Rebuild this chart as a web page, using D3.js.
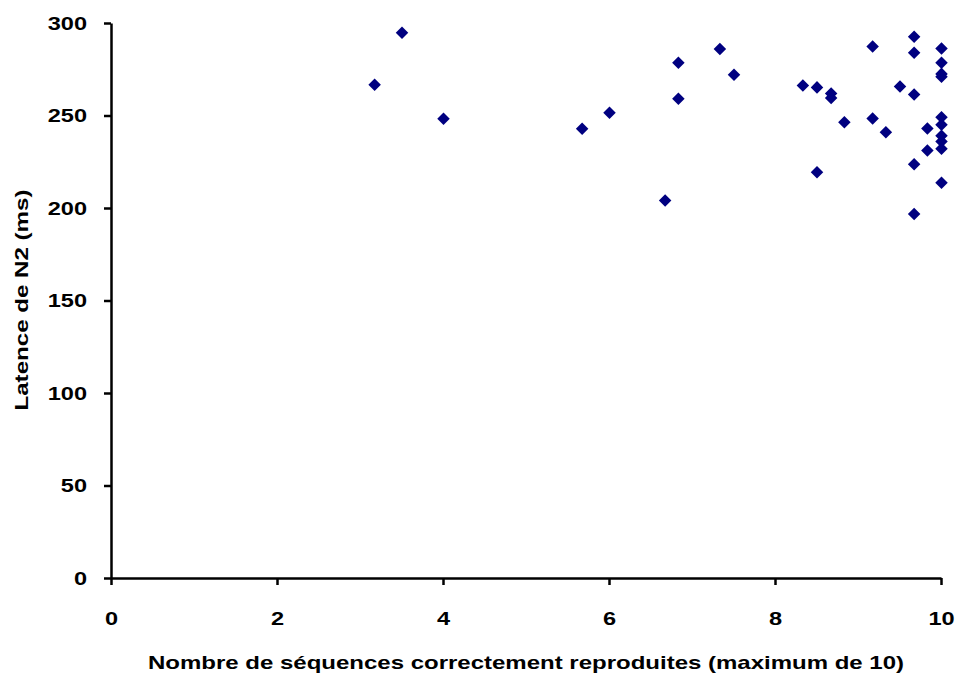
<!DOCTYPE html>
<html>
<head>
<meta charset="utf-8">
<script src="https://cdn.jsdelivr.net/npm/d3@7"></script>
<style>
  html, body { margin: 0; padding: 0; background: #fff; }
  svg { display: block; }
  text { font-family: "Liberation Sans", Arial, sans-serif; font-weight: bold; fill: #000; }
</style>
</head>
<body>
<svg id="chart" width="957" height="675"></svg>
<script>
const xValues = [3.17, 3.5, 4.0, 5.67, 6.0, 6.67, 6.83, 6.83, 7.33, 7.5,
                 8.33, 8.5, 8.5, 8.67, 8.67, 8.83, 9.17, 9.17, 9.33, 9.5,
                 9.67, 9.67, 9.67, 9.67, 9.67, 9.83, 9.83,
                 10, 10, 10, 10, 10, 10, 10, 10, 10, 10];
const yValues = [266.6, 294.7, 248.2, 242.8, 251.5, 204.0, 278.5, 259.0, 286.0, 272.0,
                 266.2, 265.2, 219.3, 261.9, 259.4, 246.3, 287.3, 248.4, 240.9, 265.7,
                 292.6, 283.9, 261.4, 223.6, 196.8, 243.0, 231.1,
                 286.2, 278.5, 272.5, 271.0, 249.0, 245.0, 239.0, 236.0, 232.0, 213.7];
const xTicks = [0, 2, 4, 6, 8, 10];
const yTicks = [0, 50, 100, 150, 200, 250, 300];
const xTitle = "Nombre de séquences correctement reproduites (maximum de 10)";
const yTitle = "Latence de N2 (ms)";

const svg = d3.select("#chart");
const mLeft = 111, mRight = 941, mTop = 23, mBottom = 578;
const stretch = 1.24;

const x = d3.scaleLinear().domain([0, 10]).range([mLeft, mRight]);
const y = d3.scaleLinear().domain([0, 300]).range([mBottom, mTop]);

const xAxis = svg.append("g")
  .attr("transform", `translate(0,${mBottom})`)
  .call(d3.axisBottom(x).tickValues(xTicks).tickSize(7).tickSizeOuter(0).tickPadding(27));
const yAxis = svg.append("g")
  .attr("transform", `translate(${mLeft},0)`)
  .call(d3.axisLeft(y).tickValues(yTicks).tickSize(7).tickSizeOuter(0).tickPadding(17));

[xAxis, yAxis].forEach(g => {
  g.select(".domain").attr("stroke", "#000").attr("stroke-width", 2.5);
  g.selectAll(".tick line").attr("stroke", "#000").attr("stroke-width", 2.5);
  g.selectAll(".tick text")
    .attr("font-size", 19)
    .attr("font-family", "Liberation Sans, Arial, sans-serif")
    .attr("font-weight", "bold")
    .attr("fill", "#000")
    .each(function() {
      const w = this.getComputedTextLength();
      d3.select(this).attr("textLength", w * stretch).attr("lengthAdjust", "spacingAndGlyphs");
    });
});

const diamond = d3.symbol().type(d3.symbolDiamond2).size(100);
svg.append("g").selectAll("path")
  .data(xValues.map((v, i) => [v, yValues[i]]))
  .join("path")
  .attr("d", diamond)
  .attr("transform", d => `translate(${x(d[0]) + 0.5},${y(d[1])})`)
  .attr("fill", "#000080");

svg.append("text")
  .attr("x", 526)
  .attr("y", 669)
  .attr("text-anchor", "middle")
  .attr("font-size", 19)
  .attr("textLength", 756)
  .attr("lengthAdjust", "spacingAndGlyphs")
  .text(xTitle);

svg.append("text")
  .attr("transform", `translate(28,300) rotate(-90)`)
  .attr("text-anchor", "middle")
  .attr("font-size", 19)
  .attr("textLength", 221)
  .attr("lengthAdjust", "spacingAndGlyphs")
  .text(yTitle);
</script>
</body>
</html>
